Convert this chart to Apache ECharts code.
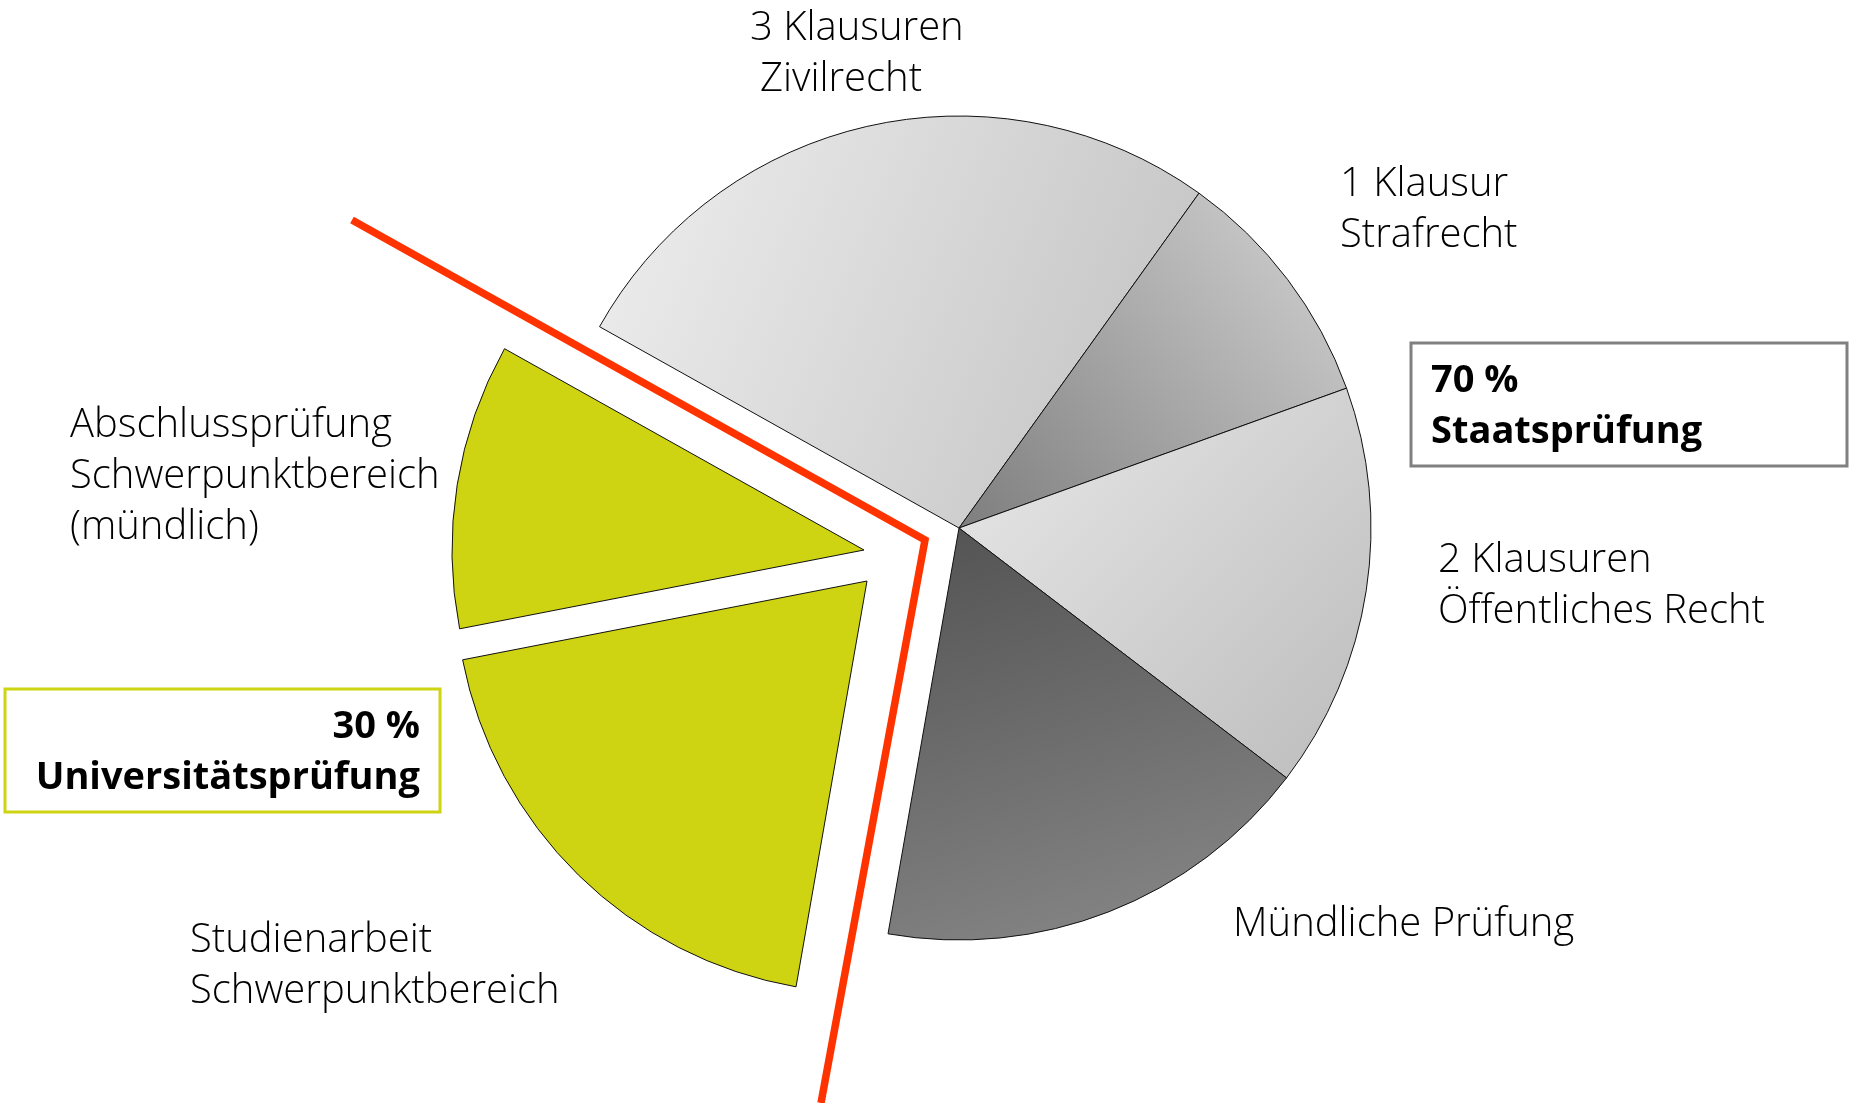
<!DOCTYPE html>
<html>
<head>
<meta charset="utf-8">
<script src="https://cdn.jsdelivr.net/npm/echarts@6/dist/echarts.min.js"></script>
<style>
html,body{margin:0;padding:0;background:#fff;}
#chart{width:1854px;height:1103px;}
</style>
</head>
<body>
<div id="chart"></div>
<script>
// ---- data ----
const categories = ['3 Klausuren Zivilrecht', '1 Klausur Strafrecht', '2 Klausuren Öffentliches Recht', 'Mündliche Prüfung', 'Studienarbeit Schwerpunktbereich', 'Abschlussprüfung Schwerpunktbereich (mündlich)'];
const values = [26.8, 9.6, 15.9, 17.4, 19.2, 11.2];   // share of final grade, %
const groups = ['staat', 'staat', 'staat', 'staat', 'uni', 'uni'];
const labelLines = [
  ['3 Klausuren', 'Zivilrecht'],
  ['1 Klausur', 'Strafrecht'],
  ['2 Klausuren', 'Öffentliches Recht'],
  ['Mündliche Prüfung'],
  ['Studienarbeit', 'Schwerpunktbereich'],
  ['Abschlussprüfung', 'Schwerpunktbereich', '(mündlich)']
];
const groupTotals = ['70 %', '30 %'];
const groupNames = ['Staatsprüfung', 'Universitätsprüfung'];

// ---- styles ----
const FONT = '"Open Sans", "Noto Sans", sans-serif';
const GREEN = '#ced312';
function lg(x, y, x2, y2, c1, c2) {
  return { type: 'linear', x: x, y: y, x2: x2, y2: y2, colorStops: [{ offset: 0, color: c1 }, { offset: 1, color: c2 }] };
}
const grayFills = [
  lg(0, 0.2, 1, 0.8, '#ededed', '#c2c2c2'),
  lg(0, 1, 1, 0, '#7e7e7e', '#d4d4d4'),
  lg(0, 0, 1, 1, '#e9e9e9', '#bcbcbc'),
  lg(0, 0, 0.3, 1, '#525252', '#818181')
];

const R = 412;
const START = 150.75;
const centerMain = [959, 528];
const centerUpper = [864, 550];   // Abschlussprüfung (pulled out)
const centerLower = [867, 581];   // Studienarbeit (pulled out)

function makeData(visibleIdx) {
  return categories.map(function (c, i) {
    let style;
    if (visibleIdx(i)) {
      style = {
        color: groups[i] === 'staat' ? grayFills[i] : GREEN,
        borderColor: '#111', borderWidth: 1
      };
    } else {
      style = { color: 'rgba(0,0,0,0)', borderWidth: 0 };
    }
    return { name: c, value: values[i], itemStyle: style };
  });
}

function pieSeries(center, visibleIdx) {
  return {
    type: 'pie',
    center: center,
    radius: [0, R],
    startAngle: START,
    clockwise: true,
    avoidLabelOverlap: false,
    label: { show: false },
    labelLine: { show: false },
    emphasis: { disabled: true },
    silent: true,
    animation: false,
    data: makeData(visibleIdx)
  };
}

// ---- text labels ----
const txt = [];
function addLines(lines, x, y0, step, opts) {
  lines.forEach(function (l, k) {
    txt.push({
      type: 'text', x: x + ((opts && opts.dx && opts.dx[k]) || 0), y: y0 + k * step, z: 10,
      style: {
        text: l, font: ((opts && opts.bold) ? 'bold 38px ' : '300 40px ') + FONT, fill: '#000',
        align: (opts && opts.align) || 'left', verticalAlign: 'middle'
      }
    });
  });
}
addLines(labelLines[0], 750, 29, 51, { dx: [0, 10] });
addLines(labelLines[1], 1340, 185, 51);
addLines(labelLines[2], 1438, 561, 51);
addLines(labelLines[3], 1233, 925, 51);
addLines(labelLines[4], 190, 941, 51);
addLines(labelLines[5], 70, 426, 51);

// ---- summary boxes ----
const boxes = [
  { type: 'rect', z: 5, shape: { x: 1411, y: 343, width: 436, height: 123 }, style: { fill: '#fff', stroke: '#808080', lineWidth: 3 } },
  { type: 'rect', z: 5, shape: { x: 5, y: 689, width: 435, height: 123 }, style: { fill: '#fff', stroke: GREEN, lineWidth: 3 } }
];
addLines([groupTotals[0], groupNames[0]], 1431, 381, 51, { bold: true });
addLines([groupTotals[1], groupNames[1]], 420, 727, 51, { bold: true, align: 'right' });

// ---- red separator between the two exam parts ----
const redLine = {
  type: 'polyline', z: 8,
  shape: { points: [[352, 220], [925, 540], [821, 1103]] },
  style: { stroke: '#ff3300', lineWidth: 7.5, fill: null, lineJoin: 'miter' }
};

const chart = echarts.init(document.getElementById('chart'), null, { renderer: 'canvas' });
chart.setOption({
  backgroundColor: '#fff',
  animation: false,
  series: [
    pieSeries(centerMain, function (i) { return groups[i] === 'staat'; }),
    pieSeries(centerLower, function (i) { return i === 4; }),
    pieSeries(centerUpper, function (i) { return i === 5; })
  ],
  graphic: boxes.concat([redLine]).concat(txt)
});
</script>
</body>
</html>
